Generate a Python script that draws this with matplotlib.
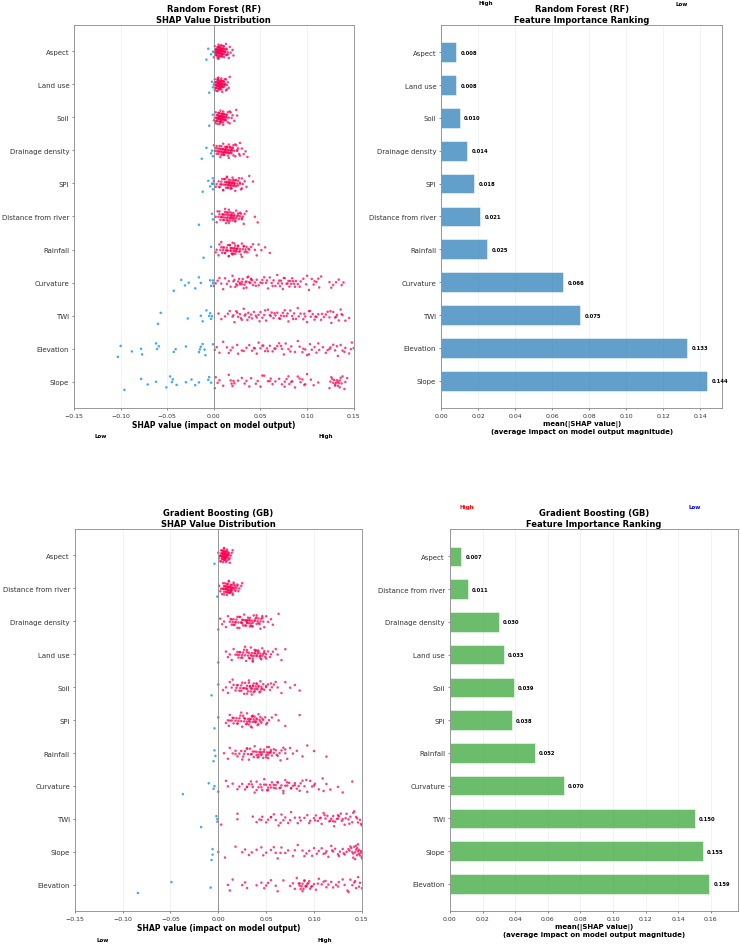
import matplotlib
matplotlib.use("Agg")
import matplotlib.pyplot as plt
import numpy as np

RED = '#ff0052'
BLUE = '#008bfb'

# SHAP values, in units of 0.001
RF_FEATURES = ['Aspect', 'Land use', 'Soil', 'Drainage density', 'SPI',
               'Distance from river', 'Rainfall', 'Curvature', 'TWI',
               'Elevation', 'Slope']
RF_IMPORTANCE = [0.008, 0.008, 0.010, 0.014, 0.018, 0.021, 0.025,
                 0.066, 0.075, 0.133, 0.144]

rf_aspect = [-8, -6, -3, -1, 0, 1, 1, 2, 2, 2, 3, 3, 3, 4, 4, 4, 4, 5, 5, 5, 5, 5, 6, 6, 6, 6, 6, 7, 7, 7, 7, 7,
             8, 8, 8, 8, 9, 9, 9, 9, 10, 10, 10, 11, 11, 11, 12, 12, 13, 13, 14, 14, 15, 16, 17, 18, 20, 21,
             1, 2, 3, 3, 4, 4, 5, 5, 6, 6, 7, 7, 8, 8, 9, 9, 10, 10, 11, 12, 13, 15, 4, 5, 6, 7, 8, 9, 6, 7]
rf_landuse = [-5, -2, -1, 0, 1, 1, 2, 2, 2, 3, 3, 3, 3, 4, 4, 4, 4, 5, 5, 5, 5, 5, 6, 6, 6, 6, 7, 7, 7, 7,
              8, 8, 8, 8, 9, 9, 9, 10, 10, 10, 11, 11, 12, 12, 13, 13, 14, 15, 16, 17,
              1, 2, 3, 3, 4, 4, 5, 5, 6, 6, 7, 7, 8, 8, 9, 9, 10, 11, 12, 14, 4, 5, 6, 7, 8, 5, 6, 7]
rf_soil = [-5, -1, 0, 1, 2, 2, 3, 3, 3, 4, 4, 4, 5, 5, 5, 5, 6, 6, 6, 6, 7, 7, 7, 7, 8, 8, 8, 8, 9, 9, 9,
           10, 10, 10, 11, 11, 12, 12, 13, 13, 14, 14, 15, 16, 17, 18, 19, 20, 22, 24, 25,
           2, 3, 4, 5, 5, 6, 6, 7, 7, 8, 8, 9, 9, 10, 10, 11, 12, 13, 15, 17, 6, 7, 8, 9, 10, 11]
rf_drainage = [-13, -8, -3, -2, -1, 0, 1, 2, 3, 3, 4, 5, 5, 6, 6, 7, 7, 8, 8, 9, 9, 10, 10, 11, 11, 12, 12,
               13, 13, 14, 14, 15, 15, 16, 16, 17, 17, 18, 18, 19, 20, 20, 21, 22, 23, 24, 25, 26, 27, 28,
               30, 32, 34, 36, 3, 5, 7, 8, 9, 10, 11, 12, 13, 14, 15, 16, 17, 18, 19, 21, 23, 25, 28, 10,
               12, 14, 16, 18, 20]
rf_spi = [-12, -6, -4, -2, -1, -1, -1, 0, 2, 3, 5, 6, 7, 8, 9, 10, 10, 11, 12, 12, 13, 14, 14, 15, 15, 16,
          16, 17, 17, 18, 18, 19, 19, 20, 20, 21, 22, 22, 23, 24, 25, 26, 27, 28, 29, 30, 31, 33, 35, 38, 42,
          6, 8, 10, 12, 13, 14, 15, 16, 17, 18, 19, 20, 21, 22, 23, 24, 26, 28, 30, 14, 16, 18, 20, 22]
rf_distance = [-16, -2, -1, 2, 3, 4, 5, 6, 7, 8, 9, 10, 10, 11, 12, 12, 13, 14, 14, 15, 15, 16, 17, 17, 18,
               18, 19, 20, 20, 21, 22, 22, 23, 24, 25, 26, 27, 28, 29, 30, 31, 33, 35, 44, 47,
               6, 8, 10, 11, 12, 13, 14, 15, 16, 17, 18, 19, 20, 21, 22, 23, 24, 26, 28, 30, 32, 15, 17, 19]
rf_rainfall = [-11, -3, 2, 3, 5, 6, 7, 8, 9, 10, 11, 12, 13, 14, 15, 15, 16, 17, 18, 18, 19, 20, 20, 21, 22,
               22, 23, 24, 25, 26, 27, 28, 29, 30, 31, 32, 33, 34, 35, 36, 38, 40, 42, 44, 46, 48, 51, 55, 60,
               8, 10, 12, 14, 16, 17, 18, 19, 20, 21, 22, 23, 24, 25, 26, 28, 30, 32, 34, 37, 20, 22, 24]
rf_curvature = [-43, -35, -31, -27, -20, -16, -14, -4, -3, -1, -1, 0, 2, 4, 6, 8, 10, 12, 14, 16, 18, 20,
                21, 23, 24, 26, 27, 28, 30, 31, 33, 34, 35, 37, 38, 40, 42, 44, 46, 48, 50, 52, 54, 56, 58,
                60, 62, 64, 66, 68, 70, 71, 73, 74, 76, 78, 80, 81, 83, 85, 87, 90, 93, 96, 99, 102, 105,
                107, 110, 113, 115, 124, 126, 128, 131, 134, 137, 139,
                22, 25, 28, 32, 36, 39, 41, 45, 52, 57, 63, 69, 72, 75, 79, 82, 84, 86, 88, 92, 100, 108,
                112, 30, 35, 40]
rf_twi = [-60, -57, -28, -14, -12, -8, -5, -4, -3, -2, 5, 8, 12, 15, 17, 20, 22, 24, 26, 28, 30, 32, 34, 36,
          38, 40, 43, 46, 48, 50, 52, 54, 56, 58, 60, 62, 64, 66, 68, 70, 72, 74, 76, 78, 80, 82, 84, 86,
          88, 90, 93, 96, 98, 100, 102, 104, 106, 108, 110, 112, 115, 118, 120, 122, 124, 126, 128, 130,
          132, 134, 136, 138, 141, 145,
          21, 25, 29, 33, 37, 41, 45, 49, 55, 61, 65, 71, 75, 79, 85, 91, 97, 103, 109, 116, 125, 131, 137]
rf_elevation = [-103, -100, -88, -78, -77, -62, -61, -59, -43, -41, -30, -16, -15, -14, -12, -10, -9, -1,
                1, 3, 6, 10, 14, 16, 18, 20, 25, 30, 35, 38, 41, 43, 46, 48, 50, 53, 55, 57, 60, 63, 66, 68,
                70, 73, 75, 77, 80, 83, 87, 90, 92, 95, 98, 100, 103, 105, 108, 110, 113, 117, 120, 122,
                125, 128, 130, 133, 136, 138, 141, 145, 148, 150,
                26, 32, 44, 52, 58, 65, 72, 82, 96, 102, 112, 124, 132, 140, 147]
rf_slope = [-96, -78, -71, -62, -51, -47, -45, -44, -40, -30, -24, -20, -16, -6, -5, -3, 1, 2, 4, 6, 10,
            16, 18, 20, 22, 26, 30, 33, 35, 40, 45, 47, 50, 54, 58, 61, 63, 66, 70, 73, 76, 78, 80, 83, 87,
            90, 93, 95, 97, 100, 104, 107, 112, 124, 126, 128, 129, 130, 131, 132, 133, 134, 135, 136, 137,
            140, 143, 19, 21, 38, 52, 60, 76, 81, 84, 92, 98, 125, 127, 130, 133, 135, 138, 141]
RF_SHAP = [rf_aspect, rf_landuse, rf_soil, rf_drainage, rf_spi, rf_distance, rf_rainfall,
           rf_curvature, rf_twi, rf_elevation, rf_slope]

GB_FEATURES = ['Aspect', 'Distance from river', 'Drainage density', 'Land use', 'Soil', 'SPI',
               'Rainfall', 'Curvature', 'TWI', 'Slope', 'Elevation']
GB_IMPORTANCE = [0.007, 0.011, 0.030, 0.033, 0.039, 0.038, 0.052, 0.070, 0.150, 0.155, 0.159]

gb_aspect = [-4, 0, 1, 2, 2, 3, 3, 3, 4, 4, 4, 4, 5, 5, 5, 5, 5, 6, 6, 6, 6, 6, 7, 7, 7, 7, 7, 8, 8, 8, 8,
             9, 9, 9, 10, 10, 10, 11, 11, 12, 13, 14, 15,
             2, 3, 4, 5, 5, 6, 6, 7, 7, 8, 8, 9, 9, 10, 11, 4, 5, 6, 7, 8, 6, 7, 12]
gb_distance = [-1, 1, 2, 3, 4, 5, 5, 6, 6, 7, 7, 8, 8, 8, 9, 9, 9, 10, 10, 10, 11, 11, 11, 12, 12, 12, 13,
               13, 13, 14, 14, 15, 15, 16, 16, 17, 18, 19, 20, 21, 22, 24, 25,
               5, 6, 7, 8, 9, 10, 11, 12, 13, 14, 15, 16, 17, 18, 9, 10, 11, 12, 13, 14, 20]
gb_drainage = [0, 2, 4, 6, 8, 10, 12, 13, 14, 15, 16, 17, 18, 19, 20, 21, 22, 23, 24, 25, 26, 27, 28, 29,
               30, 30, 31, 32, 33, 33, 34, 35, 36, 37, 38, 39, 40, 41, 42, 43, 44, 45, 46, 47, 48, 50, 52,
               55, 57, 63, 14, 16, 18, 20, 22, 24, 26, 28, 30, 32, 34, 36, 38, 40, 42, 44, 46, 25, 30, 35,
               40, 29, 33]
gb_landuse = [0, 8, 10, 12, 14, 16, 18, 20, 21, 22, 23, 24, 25, 26, 27, 28, 29, 30, 31, 32, 33, 34, 35,
              36, 37, 38, 39, 40, 41, 42, 43, 44, 45, 46, 47, 48, 49, 50, 52, 54, 55, 57, 60, 62, 66, 70,
              20, 22, 25, 28, 30, 32, 34, 36, 38, 40, 42, 44, 46, 48, 50, 35, 38, 41, 44, 36, 39]
gb_soil = [-7, 0, 5, 8, 10, 12, 14, 16, 18, 19, 20, 22, 23, 24, 25, 26, 27, 28, 29, 30, 31, 32, 33, 34, 35,
           36, 37, 38, 39, 40, 41, 42, 43, 44, 45, 47, 48, 50, 52, 54, 56, 58, 60, 62, 66, 70, 75, 80, 85,
           15, 20, 24, 27, 30, 32, 34, 36, 38, 40, 42, 44, 46, 50, 55, 30, 35, 40, 45, 33, 37]
gb_spi = [-4, 0, 8, 10, 11, 12, 14, 15, 16, 18, 19, 20, 21, 22, 23, 24, 25, 26, 27, 28, 29, 30, 31, 32, 33,
          34, 35, 36, 37, 38, 39, 40, 41, 42, 43, 44, 45, 47, 49, 51, 53, 56, 60, 63, 70, 85,
          12, 16, 20, 24, 27, 30, 32, 34, 36, 38, 40, 42, 44, 46, 50, 30, 33, 36, 39, 35]
gb_rainfall = [-5, -4, -3, 6, 10, 12, 15, 18, 20, 22, 24, 26, 27, 28, 30, 31, 32, 33, 35, 36, 37, 38, 40,
               41, 42, 43, 44, 45, 46, 48, 50, 51, 52, 53, 54, 55, 56, 58, 60, 62, 64, 66, 68, 70, 72, 75,
               78, 82, 88, 93, 100, 113, 18, 25, 30, 34, 38, 42, 45, 48, 50, 52, 55, 58, 61, 65, 70, 40,
               44, 47, 51, 53]
gb_curvature = [-37, -10, -5, -4, 0, 8, 10, 15, 20, 22, 25, 28, 30, 32, 34, 36, 38, 40, 42, 44, 46, 48, 50,
                51, 52, 54, 56, 58, 60, 62, 64, 66, 68, 70, 72, 74, 76, 78, 80, 82, 84, 86, 88, 90, 93, 96,
                98, 101, 105, 109, 113, 117, 125, 130, 140,
                30, 35, 40, 45, 48, 52, 55, 58, 62, 65, 68, 72, 76, 80, 85, 92, 100, 110, 60, 70]
gb_twi = [-18, -2, -1, -1, 3, 20, 20, 36, 40, 43, 46, 50, 52, 55, 58, 60, 63, 66, 68, 70, 73, 76, 80, 83,
          86, 90, 93, 96, 100, 102, 104, 106, 108, 110, 112, 114, 116, 118, 120, 122, 124, 126, 128, 130,
          132, 134, 136, 138, 140, 142, 144, 146, 148, 150, 152,
          45, 55, 65, 75, 85, 95, 101, 107, 111, 117, 121, 125, 129, 133, 137, 141, 145, 149, 120, 125]
gb_slope = [-7, -6, -6, 0, 7, 18, 25, 28, 32, 35, 40, 47, 50, 55, 58, 60, 62, 66, 70, 73, 78, 83, 88, 90,
            92, 95, 100, 103, 105, 108, 110, 113, 115, 118, 120, 122, 125, 127, 130, 132, 134, 136, 138,
            140, 141, 142, 143, 144, 145, 146, 147, 148, 149, 150,
            45, 65, 80, 98, 112, 119, 126, 131, 137, 139, 141, 143, 145, 147, 149, 150, 144, 146]
gb_elevation = [-84, -49, -8, 10, 12, 15, 25, 28, 30, 40, 45, 48, 50, 52, 55, 60, 62, 68, 75, 78, 80, 82,
                84, 86, 87, 88, 90, 92, 93, 95, 97, 100, 102, 105, 108, 110, 113, 115, 118, 120, 123, 126,
                130, 132, 135, 138, 140, 142, 144, 146, 148, 150,
                85, 88, 90, 92, 94, 96, 98, 85, 89, 91, 104, 112, 125, 136, 143, 147]
GB_SHAP = [gb_aspect, gb_distance, gb_drainage, gb_landuse, gb_soil, gb_spi, gb_rainfall,
           gb_curvature, gb_twi, gb_slope, gb_elevation]

fig = plt.figure(figsize=(14.8, 18.9), dpi=50)


def style_axes(ax):
    for s in ax.spines.values():
        s.set_color('#888888')
        s.set_linewidth(1.2)
    ax.tick_params(axis='y', labelsize=10, colors='#333333')
    ax.tick_params(axis='x', labelsize=9, colors='#333333')
    ax.grid(axis='x', color='#dddddd', alpha=0.6, linewidth=0.8)
    ax.set_axisbelow(True)


def shap_panel(rect, features, shap, title):
    ax = fig.add_axes(rect)
    n = len(features)
    for i, vals in enumerate(shap):
        v = np.array(vals) / 1000.0
        y = n - 1 - i
        # deterministic vertical spread of the dots
        idx = np.arange(len(v))
        off = (((idx * 0.7548777) % 1.0) + ((idx * 0.5698403) % 1.0)) / 2.0 - 0.5
        off = off * 0.5
        colors = [BLUE if x < 0 else RED for x in v]
        ax.scatter(v, y + off, s=13, c=colors, alpha=0.75, linewidths=0)
    ax.axvline(0, color='#888888', linewidth=1.2, zorder=1)
    ax.set_yticks(range(n))
    ax.set_yticklabels(features[::-1])
    ax.set_ylim(-0.8, n - 0.2)
    ax.set_xlim(-0.15, 0.15)
    ax.set_xticks([-0.15, -0.10, -0.05, 0.00, 0.05, 0.10, 0.15])
    ax.set_xticklabels(['\u22120.15', '\u22120.10', '\u22120.05', '0.00', '0.05', '0.10', '0.15'])
    ax.set_xlabel('SHAP value (impact on model output)', fontsize=11, fontweight='bold', labelpad=3)
    ax.set_title(title, fontsize=12, fontweight='bold', pad=5)
    style_axes(ax)
    return ax


def bar_panel(rect, features, imp, color, xmax, xticks, title):
    ax = fig.add_axes(rect)
    n = len(features)
    ypos = [n - 1 - i for i in range(n)]
    ax.barh(ypos, imp, height=0.6, color=color, alpha=0.7, edgecolor='white', linewidth=1)
    for y, v in zip(ypos, imp):
        ax.text(v + 0.0025, y, f'{v:.3f}', va='center', ha='left', fontsize=7.5, fontweight='bold')
    ax.set_yticks(range(n))
    ax.set_yticklabels(features[::-1])
    ax.set_ylim(-0.83, n - 0.17)
    ax.set_xlim(0, xmax)
    ax.set_xticks(xticks)
    ax.set_xticklabels([f'{t:.2f}' for t in xticks])
    ax.set_xlabel('mean(|SHAP value|)\n(average impact on model output magnitude)',
                  fontsize=10, fontweight='bold', labelpad=3)
    ax.set_title(title, fontsize=12, fontweight='bold', pad=5)
    style_axes(ax)
    return ax


shap_panel([0.100, 0.5672, 0.378, 0.4053], RF_FEATURES, RF_SHAP,
           'Random Forest (RF)\nSHAP Value Distribution')
bar_panel([0.596, 0.5672, 0.380, 0.4053], RF_FEATURES, RF_IMPORTANCE, '#1f77b4', 0.152,
          [0.00, 0.02, 0.04, 0.06, 0.08, 0.10, 0.12, 0.14],
          'Random Forest (RF)\nFeature Importance Ranking')
shap_panel([0.101, 0.0349, 0.388, 0.4041], GB_FEATURES, GB_SHAP,
           'Gradient Boosting (GB)\nSHAP Value Distribution')
bar_panel([0.608, 0.0349, 0.389, 0.4041], GB_FEATURES, GB_IMPORTANCE, '#2ca02c', 0.1765,
          [0.00, 0.02, 0.04, 0.06, 0.08, 0.10, 0.12, 0.14, 0.16],
          'Gradient Boosting (GB)\nFeature Importance Ranking')

W, H = 740.0, 945.0
lbl = dict(fontsize=8, fontweight='bold', ha='center', va='center')
fig.text(101 / W, 1 - 437 / H, 'Low', **lbl)
fig.text(326 / W, 1 - 437 / H, 'High', **lbl)
fig.text(486 / W, 1 - 4 / H, 'High', **lbl)
fig.text(682 / W, 1 - 4 / H, 'Low', **lbl)
fig.text(103 / W, 1 - 941 / H, 'Low', **lbl)
fig.text(325 / W, 1 - 941 / H, 'High', **lbl)
fig.text(467 / W, 1 - 508 / H, 'High', color='red', **lbl)
fig.text(695 / W, 1 - 508 / H, 'Low', color='blue', **lbl)

fig.savefig('out.png', dpi=50)
